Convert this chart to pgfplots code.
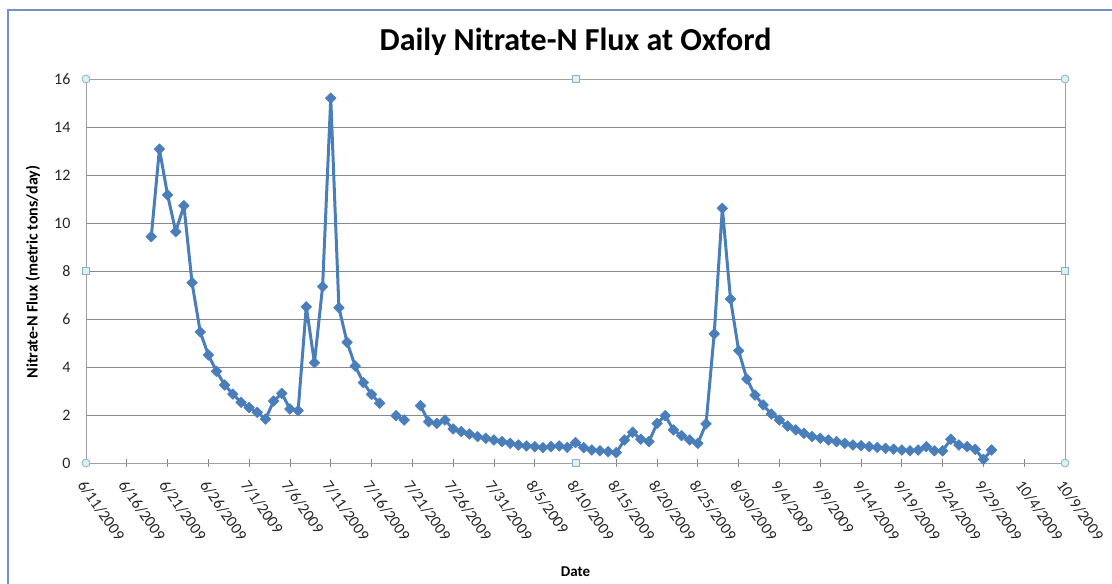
\documentclass[border=0pt]{standalone}
\usepackage{pgfplots}
\pgfplotsset{compat=1.18}
\usetikzlibrary{calc}
\usepackage{fontspec}
\setmainfont{Carlito}
\definecolor{serie}{HTML}{4A7EBB}
\definecolor{frame}{HTML}{6F93C6}
\definecolor{gridc}{HTML}{888888}
\definecolor{handlefill}{HTML}{DCEFF5}
\definecolor{handledraw}{HTML}{8FAFC8}
\begin{document}
\begin{tikzpicture}
\useasboundingbox (0,0) rectangle (1112pt,584pt);
\draw[color=frame, line width=1.3pt] (8pt,-20pt) rectangle (1140pt,574pt);
\begin{axis}[
  name=ax,
  at={(86pt,121pt)}, anchor=south west,
  scale only axis, width=979pt, height=384pt,
  xmin=0, xmax=120, ymin=0, ymax=16,
  xtick={0,5,...,120},
  xticklabels={6/11/2009,6/16/2009,6/21/2009,6/26/2009,7/1/2009,7/6/2009,7/11/2009,7/16/2009,7/21/2009,7/26/2009,7/31/2009,8/5/2009,8/10/2009,8/15/2009,8/20/2009,8/25/2009,8/30/2009,9/4/2009,9/9/2009,9/14/2009,9/19/2009,9/24/2009,9/29/2009,10/4/2009,10/9/2009},
  ytick={0,2,...,16},
  xtick pos=bottom,
  ymajorgrids, grid style={gridc, line width=0.8pt},
  axis line style={draw=gridc!80, line width=0.8pt},
  xtick align=center, major tick length=8pt,
  xtick style={draw=gridc, line width=0.8pt},
  ytick style={draw=none},
  /pgf/number format/assume math mode=true,
  yticklabel style={font=\fontsize{16}{18}\selectfont, xshift=-12pt, text=black!85},
  xticklabel style={font=\fontsize{16}{18}\selectfont, xshift=1pt, yshift=-7pt, rotate=-55, anchor=north west, text=black!85},
  unbounded coords=jump,
  clip=false,
]
\addplot[color=serie, line width=3pt, line join=round, mark=square*, mark size=3.8pt, mark options={rotate=45, line width=0.5pt, fill=serie}] table[row sep=\\] {
x y\\
8 9.43\\ 9 13.08\\ 10 11.17\\ 11 9.64\\ 12 10.72\\ 13 7.51\\ 14 5.46\\ 15 4.50\\
16 3.82\\ 17 3.25\\ 18 2.87\\ 19 2.53\\ 20 2.31\\ 21 2.11\\ 22 1.83\\ 23 2.58\\
24 2.90\\ 25 2.25\\ 26 2.18\\ 27 6.51\\ 28 4.18\\ 29 7.35\\ 30 15.20\\ 31 6.47\\
32 5.03\\ 33 4.04\\ 34 3.35\\ 35 2.86\\ 36 2.49\\ 37 nan\\ 38 1.97\\ 39 1.79\\
40 nan\\ 41 2.39\\ 42 1.72\\ 43 1.65\\ 44 1.79\\ 45 1.42\\ 46 1.31\\ 47 1.21\\
48 1.10\\ 49 1.03\\ 50 0.96\\ 51 0.89\\ 52 0.82\\ 53 0.75\\ 54 0.71\\ 55 0.68\\
56 0.64\\ 57 0.68\\ 58 0.71\\ 59 0.65\\ 60 0.85\\ 61 0.64\\ 62 0.54\\ 63 0.51\\
64 0.47\\ 65 0.43\\ 66 0.96\\ 67 1.28\\ 68 0.99\\ 69 0.89\\ 70 1.65\\ 71 1.97\\
72 1.38\\ 73 1.14\\ 74 0.96\\ 75 0.82\\ 76 1.63\\ 77 5.38\\ 78 10.61\\ 79 6.83\\
80 4.68\\ 81 3.50\\ 82 2.83\\ 83 2.42\\ 84 2.04\\ 85 1.79\\ 86 1.54\\ 87 1.38\\
88 1.24\\ 89 1.10\\ 90 1.03\\ 91 0.96\\ 92 0.89\\ 93 0.82\\ 94 0.75\\ 95 0.72\\
96 0.68\\ 97 0.65\\ 98 0.61\\ 99 0.58\\ 100 0.54\\ 101 0.51\\ 102 0.54\\ 103 0.68\\
104 0.51\\ 105 0.51\\ 106 0.99\\ 107 0.75\\ 108 0.68\\ 109 0.57\\ 110 0.15\\ 111 0.54\\
};
\end{axis}
% selection handles of the plot area
\foreach \a in {north west, north east, south west, south east}
  \draw[handledraw, fill=handlefill, line width=0.8pt] (ax.\a) circle (4pt);
\foreach \a in {north, south, west, east}
  \draw[handledraw, fill=handlefill, line width=0.8pt] ($(ax.\a)+(-3.5pt,-3.5pt)$) rectangle +(7pt,7pt);
\node[font=\fontsize{32}{36}\selectfont\bfseries] at (575.5pt,542pt) {Daily Nitrate-N Flux at Oxford};
\node[font=\fontsize{16}{18}\selectfont\bfseries, rotate=90] at (33pt,312pt) {Nitrate-N Flux (metric tons/day)};
\node[font=\fontsize{15}{17}\selectfont\bfseries] at (575.5pt,12pt) {Date};
\end{tikzpicture}
\end{document}
